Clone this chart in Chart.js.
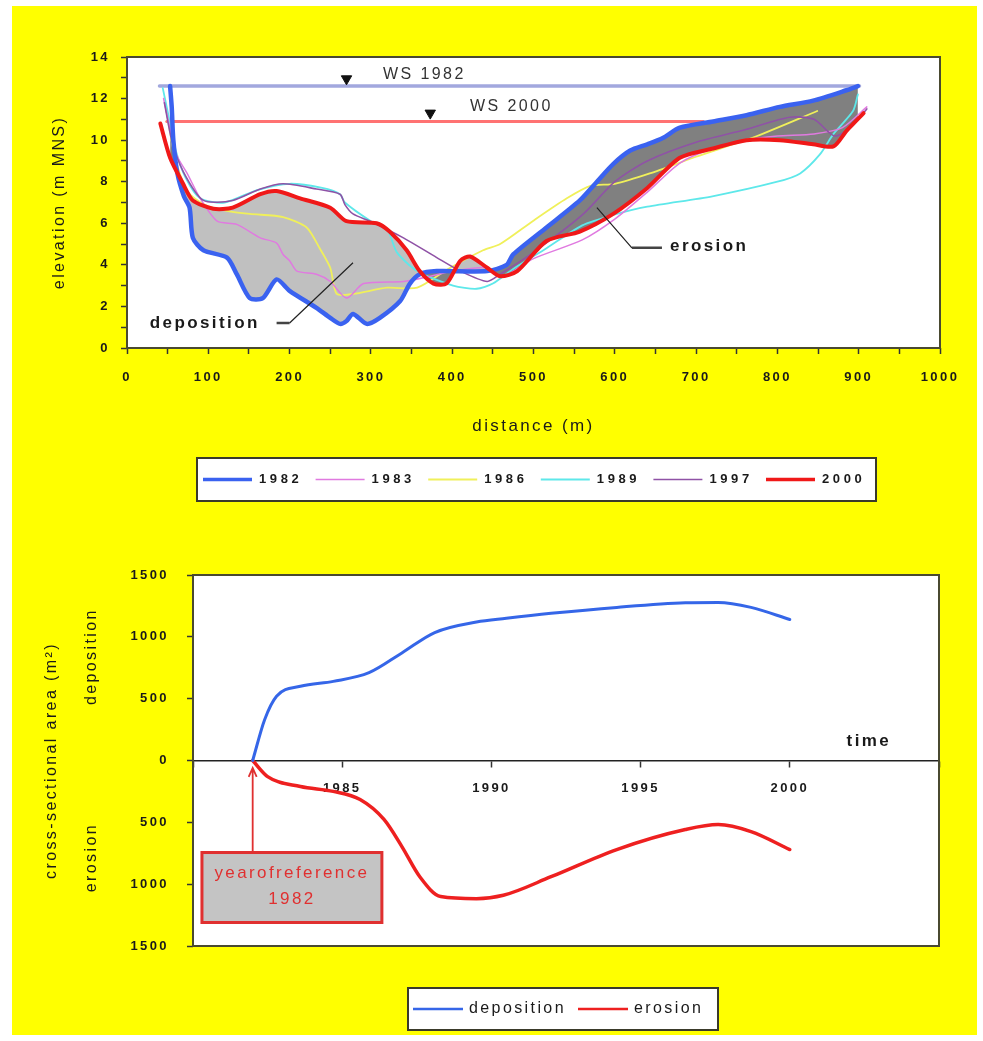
<!DOCTYPE html>
<html>
<head>
<meta charset="utf-8">
<script src="https://cdn.jsdelivr.net/npm/chart.js@4.4.1/dist/chart.umd.min.js"></script>
<style>
  html, body { margin: 0; padding: 0; background: #fff; }
  body { width: 983px; height: 1041px; position: relative; overflow: hidden; }
  #sheet { position: absolute; left: 12px; top: 6px; width: 965px; height: 1029px; background: #ffff00; }
  .box { position: absolute; left: 0; width: 983px; }
  #profileBox { top: 0; height: 520px; }
  #areaBox { top: 520px; height: 521px; }
</style>
</head>
<body>
<div id="sheet"></div>
<div class="box" id="profileBox"><canvas id="profile"></canvas></div>
<div class="box" id="areaBox"><canvas id="area"></canvas></div>
<script>
// cross sections, distance (m) / elevation (m MNS)
const profileYears = ['1982', '1983', '1986', '1989', '1997', '2000'];

const dist1982 = [53, 55, 57, 62, 70, 77, 81, 94, 123, 135, 151, 167, 184, 200, 233, 250, 262, 270, 278, 295, 311, 336, 348, 360, 381, 443, 467, 475, 516, 557, 578, 598, 619, 640, 659, 680, 721, 762, 803, 844, 885, 899];
const elev1982 = [12.6, 11.6, 10.0, 8.4, 7.3, 6.75, 5.3, 4.7, 4.35, 3.55, 2.4, 2.4, 3.3, 2.75, 1.93, 1.45, 1.16, 1.3, 1.64, 1.16, 1.45, 2.26, 3.1, 3.55, 3.7, 3.7, 4.0, 4.5, 5.8, 7.1, 8.0, 8.85, 9.5, 9.8, 10.1, 10.6, 10.9, 11.2, 11.6, 11.9, 12.4, 12.6];

const dist1983 = [45, 55, 62, 74, 90, 111, 135, 164, 184, 192, 200, 209, 233, 250, 270, 291, 340, 373, 401, 443, 460, 500, 560, 600, 640, 680, 720, 760, 800, 845, 880, 910];
const elev1983 = [12.0, 10.2, 9.2, 8.4, 7.2, 6.1, 5.95, 5.3, 5.05, 4.5, 4.2, 3.7, 3.55, 3.2, 2.4, 3.1, 3.2, 3.45, 3.7, 3.86, 3.4, 4.3, 5.2, 6.2, 7.5, 8.9, 9.6, 10.0, 10.2, 10.3, 10.6, 11.6];

const dist1986 = [48, 60, 75, 95, 123, 151, 192, 221, 237, 250, 258, 278, 320, 357, 395, 438, 459, 499, 541, 570, 600, 643, 700, 775, 849];
const elev1986 = [11.5, 9.0, 7.5, 6.9, 6.6, 6.45, 6.3, 5.8, 4.8, 3.86, 2.6, 2.6, 2.9, 2.9, 3.8, 4.7, 5.0, 6.1, 7.2, 7.8, 7.9, 8.4, 9.2, 10.2, 11.4];

const dist1989 = [44, 52, 60, 72, 90, 120, 160, 200, 240, 262, 268, 300, 320, 332, 357, 401, 430, 450, 475, 516, 560, 598, 640, 720, 800, 828, 852, 869, 893, 899];
const elev1989 = [12.5, 11.0, 9.5, 8.2, 7.2, 7.0, 7.6, 7.9, 7.7, 7.4, 7.0, 6.1, 5.7, 4.6, 3.7, 3.0, 2.85, 3.1, 3.8, 4.8, 5.9, 6.4, 6.8, 7.3, 8.0, 8.4, 9.3, 10.3, 11.4, 12.2];

const dist1997 = [46, 55, 69, 94, 130, 164, 192, 233, 262, 268, 278, 299, 340, 381, 410, 443, 459, 500, 560, 600, 640, 700, 760, 815, 845, 870, 890, 910];
const elev1997 = [11.8, 10.0, 8.5, 7.1, 7.1, 7.65, 7.9, 7.65, 7.4, 6.9, 6.45, 6.1, 5.3, 4.35, 3.7, 3.2, 3.55, 4.6, 6.4, 8.0, 9.0, 9.9, 10.5, 11.1, 11.0, 10.2, 10.6, 11.5];

const dist2000 = [41, 53, 69, 81, 106, 130, 164, 184, 213, 250, 270, 307, 323, 344, 360, 377, 393, 410, 422, 443, 459, 480, 516, 557, 598, 640, 680, 721, 762, 803, 844, 869, 885, 906];
const elev2000 = [10.8, 9.15, 7.9, 7.1, 6.7, 6.75, 7.4, 7.55, 7.2, 6.75, 6.1, 6.0, 5.6, 4.7, 3.7, 3.1, 3.1, 4.2, 4.4, 3.86, 3.45, 3.7, 5.15, 5.6, 6.45, 7.7, 9.15, 9.6, 10.0, 10.0, 9.8, 9.7, 10.45, 11.3];

// water surfaces
const ws1982Dist = [40, 901];
const ws1982Elev = [12.6, 12.6];
const ws2000Dist = [49, 709];
const ws2000Elev = [10.9, 10.9];
const wsMarkerDist = [270, 373];
const wsMarkerElev = [12.95, 11.3];

// cross-sectional area change vs 1982 (m2)
const areaSeries = ['deposition', 'erosion'];
const depositionYears = [1982, 1982.4, 1982.8, 1983.6, 1984.7, 1985.9, 1987, 1988.1, 1989.5, 1990.5, 1992, 1994.2, 1996.5, 1997.6, 1998.7, 2000];
const depositionArea = [0, 330, 520, 600, 640, 710, 870, 1035, 1120, 1150, 1190, 1238, 1275, 1278, 1238, 1140];
const erosionYears = [1982, 1982.5, 1983.6, 1984.7, 1985.6, 1986.4, 1987, 1987.6, 1988.3, 1989.5, 1990.4, 1992, 1994.2, 1996.5, 1997.6, 1998.7, 2000];
const erosionArea = [0, -130, -210, -250, -316, -477, -696, -940, -1100, -1117, -1090, -940, -720, -558, -518, -575, -720];
const timeTickYears = [1985, 1990, 1995, 2000];

const FONT = '"Liberation Sans", Arial, sans-serif';
const INK = '#1a1a1a';
Chart.defaults.font.family = FONT;
Chart.defaults.color = INK;

const profileColors = ['#3a62f0', '#e07ae0', '#f0f05a', '#5ee8ea', '#8f52a6', '#f01818'];
const profileWidths = [4.5, 1.5, 1.8, 1.8, 1.6, 4];
const profileOrder = [1, 3, 5, 4, 2, 0];

function toPoints(xs, ys) {
  return xs.map((x, i) => ({ x, y: ys[i] }));
}

function drawText(ctx, text, x, y, { font, color = INK, align = 'left', spacing = 2.4, rotate = 0 }) {
  ctx.save();
  ctx.font = font;
  ctx.fillStyle = color;
  ctx.textAlign = align;
  ctx.textBaseline = 'middle';
  ctx.letterSpacing = spacing + 'px';
  ctx.translate(x, y);
  if (rotate) ctx.rotate(rotate);
  ctx.fillText(text, 0, 0);
  ctx.restore();
}

function drawLegendBox(ctx, left, top, width, height) {
  ctx.save();
  ctx.fillStyle = '#fff';
  ctx.fillRect(left, top, width, height);
  ctx.strokeStyle = '#3a3a2a';
  ctx.lineWidth = 2;
  ctx.strokeRect(left, top, width, height);
  ctx.restore();
}

// white plot background, frame, and wider letter spacing for all text
const plotFrame = {
  id: 'plotFrame',
  beforeDraw(chart) {
    const { ctx, chartArea: a } = chart;
    ctx.save();
    ctx.fillStyle = '#fff';
    ctx.fillRect(a.left, a.top, a.width, a.height);
    ctx.restore();
    ctx.letterSpacing = '2.4px';
  },
  afterDraw(chart) {
    const { ctx, chartArea: a } = chart;
    ctx.save();
    ctx.strokeStyle = '#4a4a30';
    ctx.lineWidth = 2;
    ctx.strokeRect(a.left, a.top, a.width, a.height);
    ctx.restore();
  }
};

const profileNotes = {
  id: 'profileNotes',
  afterDatasetsDraw(chart) {
    const { ctx, scales: { x, y } } = chart;
    const px = (d) => x.getPixelForValue(d);
    const py = (e) => y.getPixelForValue(e);
    drawText(ctx, 'WS 1982', px(315), py(13.16), { font: '16px ' + FONT, color: '#333' });
    drawText(ctx, 'WS 2000', px(422), py(11.6), { font: '16px ' + FONT, color: '#333' });
    drawText(ctx, 'deposition', px(28), py(1.2), { font: 'bold 17px ' + FONT });
    drawText(ctx, 'erosion', px(668), py(4.9), { font: 'bold 17px ' + FONT });

    ctx.save();
    ctx.strokeStyle = '#444';
    ctx.lineWidth = 2.5;
    ctx.beginPath();
    ctx.moveTo(px(184), py(1.2));
    ctx.lineTo(px(200), py(1.2));
    ctx.moveTo(px(658), py(4.82));
    ctx.lineTo(px(621), py(4.82));
    ctx.stroke();
    ctx.lineWidth = 1.2;
    ctx.strokeStyle = '#222';
    ctx.beginPath();
    ctx.moveTo(px(200), py(1.2));
    ctx.lineTo(px(278), py(4.1));
    ctx.moveTo(px(621), py(4.82));
    ctx.lineTo(px(578), py(6.75));
    ctx.stroke();
    ctx.restore();
  }
};

const profileLegend = {
  id: 'profileLegend',
  afterDraw(chart) {
    const ctx = chart.ctx;
    drawLegendBox(ctx, 197, 458, 679, 43);
    profileYears.forEach((label, i) => {
      const ds = chart.data.datasets[i];
      const x0 = 203 + i * 112.6;
      const yc = 479.5;
      ctx.save();
      ctx.strokeStyle = ds.borderColor;
      ctx.lineWidth = Math.min(ds.borderWidth, 3.5);
      ctx.beginPath();
      ctx.moveTo(x0, yc);
      ctx.lineTo(x0 + 49, yc);
      ctx.stroke();
      ctx.restore();
      drawText(ctx, label, x0 + 56, yc, { font: 'bold 13px ' + FONT, spacing: 3.6 });
    });
  }
};

const areaNotes = {
  id: 'areaNotes',
  afterDatasetsDraw(chart) {
    const { ctx, scales: { x, y } } = chart;
    const left = x.getPixelForValue(1980.3);
    const right = x.getPixelForValue(1986.33);
    const top = y.getPixelForValue(-744);
    const bottom = y.getPixelForValue(-1310);
    const red = '#e03030';

    ctx.save();
    ctx.fillStyle = '#c4c4c4';
    ctx.fillRect(left, top, right - left, bottom - top);
    ctx.strokeStyle = red;
    ctx.lineWidth = 3;
    ctx.strokeRect(left, top, right - left, bottom - top);

    const ax = x.getPixelForValue(1982);
    const tip = y.getPixelForValue(-60);
    ctx.lineWidth = 1.8;
    ctx.beginPath();
    ctx.moveTo(ax, top);
    ctx.lineTo(ax, tip);
    ctx.moveTo(ax - 4, tip + 9);
    ctx.lineTo(ax, tip);
    ctx.lineTo(ax + 4, tip + 9);
    ctx.stroke();
    ctx.restore();

    const cx = (left + right) / 2;
    drawText(ctx, 'yearofreference', cx, y.getPixelForValue(-914), { font: '17px ' + FONT, color: red, align: 'center' });
    drawText(ctx, '1982', cx, y.getPixelForValue(-1124), { font: '17px ' + FONT, color: red, align: 'center' });
    drawText(ctx, 'time', x.getPixelForValue(2002.65), y.getPixelForValue(154), { font: 'bold 17px ' + FONT, align: 'center' });

    drawText(ctx, 'deposition', 92, y.getPixelForValue(840), { font: '16px ' + FONT, align: 'center', rotate: -Math.PI / 2 });
    drawText(ctx, 'erosion', 92, y.getPixelForValue(-785), { font: '16px ' + FONT, align: 'center', rotate: -Math.PI / 2 });
  }
};

const areaLegend = {
  id: 'areaLegend',
  afterDraw(chart) {
    const ctx = chart.ctx;
    drawLegendBox(ctx, 408, 468, 310, 42);
    areaSeries.forEach((label, i) => {
      const ds = chart.data.datasets[i];
      const x0 = 413 + i * 165;
      const yc = 489;
      ctx.save();
      ctx.strokeStyle = ds.borderColor;
      ctx.lineWidth = 2.5;
      ctx.beginPath();
      ctx.moveTo(x0, yc);
      ctx.lineTo(x0 + 50, yc);
      ctx.stroke();
      ctx.restore();
      drawText(ctx, label, x0 + 56, yc, { font: '16px ' + FONT });
    });
  }
};

const profileSeries = [
  toPoints(dist1982, elev1982),
  toPoints(dist1983, elev1983),
  toPoints(dist1986, elev1986),
  toPoints(dist1989, elev1989),
  toPoints(dist1997, elev1997),
  toPoints(dist2000, elev2000)
];

const profileDatasets = profileSeries.map((data, i) => ({
  label: profileYears[i],
  data,
  borderColor: profileColors[i],
  backgroundColor: profileColors[i],
  borderWidth: profileWidths[i],
  tension: 0.25,
  order: profileOrder[i],
  fill: false
}));

// area between 2000 and 1982: light grey where it rose, dark grey where it dropped
profileDatasets[5].fill = { target: 0, above: '#c0c0c0', below: '#808080' };

profileDatasets.push(
  {
    label: 'WS 1982',
    data: toPoints(ws1982Dist, ws1982Elev),
    borderColor: '#a2a8de',
    borderWidth: 3.5,
    order: 6
  },
  {
    label: 'WS 2000',
    data: toPoints(ws2000Dist, ws2000Elev),
    borderColor: '#ff7272',
    borderWidth: 3,
    order: 6
  },
  {
    label: 'WS marker',
    data: toPoints(wsMarkerDist, wsMarkerElev),
    showLine: false,
    pointStyle: 'triangle',
    rotation: 180,
    pointRadius: 6,
    backgroundColor: '#111',
    borderColor: '#111',
    order: 0
  }
);

new Chart(document.getElementById('profile'), {
  type: 'line',
  data: { datasets: profileDatasets },
  plugins: [plotFrame, profileNotes, profileLegend],
  options: {
    responsive: true,
    maintainAspectRatio: false,
    animation: false,
    layout: { padding: { top: 57, right: 43, left: 0, bottom: 0 } },
    elements: {
      point: { radius: 0 },
      line: { borderJoinStyle: 'round', borderCapStyle: 'round' }
    },
    plugins: {
      legend: { display: false },
      tooltip: { enabled: false },
      filler: { drawTime: 'beforeDatasetsDraw' }
    },
    scales: {
      x: {
        type: 'linear',
        min: 0,
        max: 1000,
        afterFit(scale) { scale.height = 172; },
        border: { display: false },
        grid: { drawOnChartArea: false, tickLength: 6, tickColor: '#333', tickWidth: 1.5 },
        ticks: {
          stepSize: 50,
          autoSkip: false,
          maxRotation: 0,
          padding: 16,
          color: INK,
          font: { size: 13, weight: 'bold' },
          callback: (v) => (v % 100 === 0 ? String(v) : '')
        },
        title: {
          display: true,
          text: 'distance (m)',
          color: INK,
          font: { size: 17 },
          padding: { top: 0, bottom: 83 }
        }
      },
      y: {
        min: 0,
        max: 14,
        afterFit(scale) { scale.width = 127; },
        border: { display: false },
        grid: { drawOnChartArea: false, tickLength: 6, tickColor: '#333', tickWidth: 1.5 },
        ticks: {
          stepSize: 1,
          autoSkip: false,
          padding: 11,
          color: INK,
          font: { size: 13, weight: 'bold' },
          callback: (v) => (v % 2 === 0 ? String(v) : '')
        },
        title: {
          display: true,
          text: 'elevation (m MNS)',
          color: INK,
          font: { size: 16 },
          padding: { top: 50, bottom: 0 }
        }
      }
    }
  }
});

new Chart(document.getElementById('area'), {
  type: 'line',
  data: {
    datasets: [
      {
        label: areaSeries[0],
        data: toPoints(depositionYears, depositionArea),
        borderColor: '#3566e8',
        borderWidth: 3,
        cubicInterpolationMode: 'monotone'
      },
      {
        label: areaSeries[1],
        data: toPoints(erosionYears, erosionArea),
        borderColor: '#ee2020',
        borderWidth: 3.5,
        cubicInterpolationMode: 'monotone'
      }
    ]
  },
  plugins: [plotFrame, areaNotes, areaLegend],
  options: {
    responsive: true,
    maintainAspectRatio: false,
    animation: false,
    layout: { padding: { top: 55, right: 44, left: 0, bottom: 95 } },
    elements: {
      point: { radius: 0 },
      line: { borderJoinStyle: 'round', borderCapStyle: 'round' }
    },
    plugins: {
      legend: { display: false },
      tooltip: { enabled: false }
    },
    scales: {
      x: {
        type: 'linear',
        min: 1980,
        max: 2005,
        position: { y: 0 },
        afterFit(scale) { scale.height = 0; },
        border: { display: true, color: '#222', width: 1.5 },
        grid: { drawOnChartArea: false, tickLength: 6, tickColor: '#333', tickWidth: 1.5 },
        ticks: {
          stepSize: 5,
          autoSkip: false,
          maxRotation: 0,
          padding: 14,
          color: INK,
          font: { size: 13, weight: 'bold' },
          callback: (v) => (timeTickYears.includes(v) ? String(v) : '')
        }
      },
      y: {
        min: -1500,
        max: 1500,
        afterFit(scale) { scale.width = 193; },
        border: { display: false },
        grid: { drawOnChartArea: false, tickLength: 6, tickColor: '#333', tickWidth: 1.5 },
        ticks: {
          stepSize: 500,
          autoSkip: false,
          padding: 18,
          color: INK,
          font: { size: 13, weight: 'bold' },
          callback: (v) => String(Math.abs(v))
        },
        title: {
          display: true,
          text: 'cross-sectional area (m²)',
          color: INK,
          font: { size: 16 },
          padding: { top: 42, bottom: 0 }
        }
      }
    }
  }
});
</script>
</body>
</html>
